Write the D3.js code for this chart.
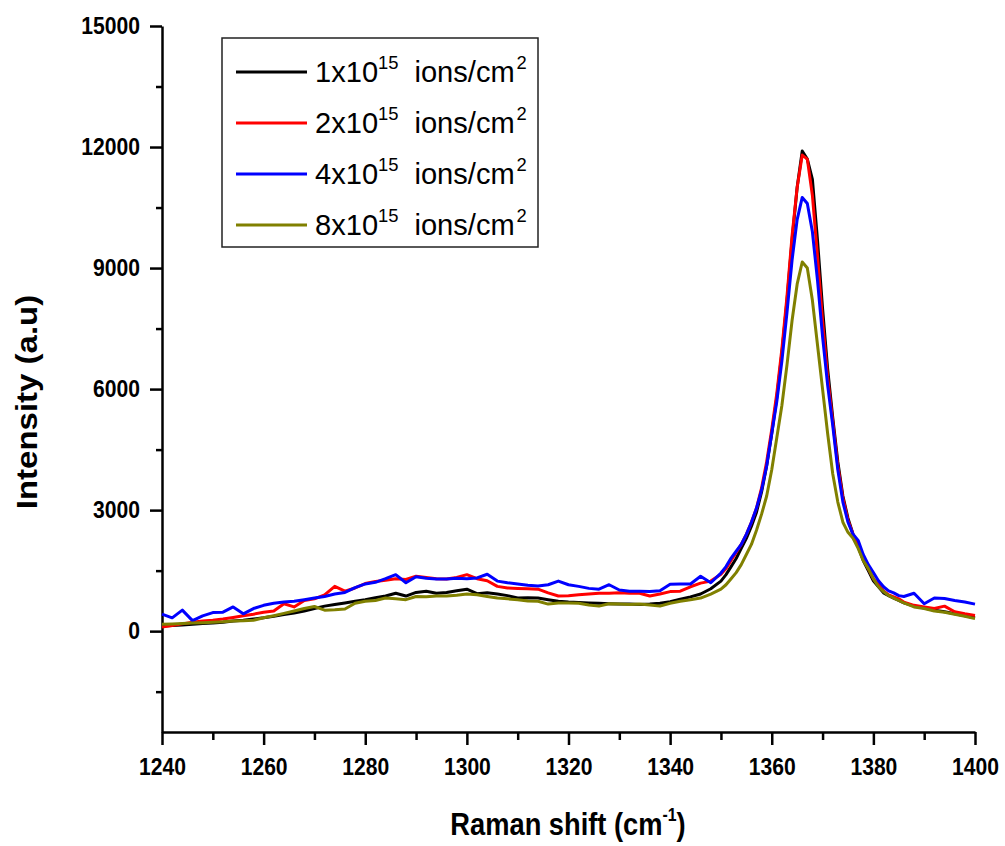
<!DOCTYPE html>
<html>
<head>
<meta charset="utf-8">
<script src="https://cdn.jsdelivr.net/npm/d3@7"></script>
<style>
  body { margin: 0; background: #fff; }
  text { font-family: "Liberation Sans", Arial, sans-serif; }
</style>
</head>
<body>
<div class="svgcontainer"></div>
<script>
// Raman shift (cm-1) sample positions
const shift = [
  1240,1242,1244,1246,1248,1250,1252,1254,1256,1258,
  1260,1262,1264,1266,1268,1270,1272,1274,1276,1278,
  1280,1282,1284,1286,1288,1290,1292,1294,1296,1298,
  1300,1302,1304,1306,1308,1310,1312,1314,1316,1318,
  1320,1322,1324,1326,1328,1330,1332,1334,1336,1338,
  1340,1342,1344,1346,1348,
  1350,1351,1352,1353,1354,1355,1356,1357,1358,1359,
  1360,1361,1362,1363,1364,1365,1366,1367,1368,1369,
  1370,1371,1372,1373,1374,1375,1376,1377,1378,1379,
  1380,1381,1382,1383,1384,1385,
  1386,1388,1390,1392,1394,1396,1398,1400
];

// intensities (a.u) for each fluence
const dose1 = [
  130,140,150,170,190,200,220,250,270,300,
  330,370,410,450,500,560,620,660,700,740,
  780,830,870,940,870,960,990,940,960,1000,
  1040,930,950,920,880,820,830,820,780,740,
  720,710,700,690,680,670,670,660,670,690,
  730,790,850,920,1050,
  1240,1400,1600,1800,2050,2300,2600,2950,3450,4100,
  4900,5800,6900,8200,9700,11000,11900,11700,11200,9700,
  8000,6500,5300,4200,3350,2800,2400,2100,1750,1500,
  1250,1100,950,880,820,760,
  700,620,570,520,480,430,380,330
];
const dose2 = [
  100,140,180,220,250,270,300,340,380,420,
  470,500,680,600,760,800,900,1110,990,1070,
  1180,1230,1260,1300,1280,1360,1330,1300,1290,1330,
  1400,1300,1250,1110,1070,1060,1050,1040,950,870,
  880,900,920,940,940,950,940,940,870,920,
  980,990,1100,1190,1240,
  1410,1550,1750,1950,2150,2400,2700,3050,3550,4200,
  5000,5900,7000,8300,9800,11000,11800,11700,10800,9300,
  7700,6300,5200,4100,3300,2750,2400,2150,1800,1550,
  1300,1150,1000,900,850,800,
  720,640,600,560,620,480,430,390
];
const dose4 = [
  420,330,520,260,380,460,470,600,430,560,
  640,690,720,740,780,820,860,920,960,1080,
  1170,1210,1300,1400,1200,1350,1310,1290,1290,1310,
  1300,1320,1410,1240,1200,1170,1140,1120,1150,1240,
  1150,1110,1060,1040,1150,1020,990,990,980,1000,
  1160,1170,1170,1360,1200,
  1440,1600,1810,1980,2150,2400,2700,3050,3500,4100,
  4900,5700,6700,7900,9200,10200,10750,10600,9900,8700,
  7300,6100,5100,4000,3200,2700,2400,2250,1900,1650,
  1450,1250,1100,1000,950,880,
  860,940,680,820,810,760,720,670
];
const dose8 = [
  170,180,190,200,210,220,230,250,260,270,
  330,380,440,500,560,610,520,530,550,690,
  740,760,820,800,780,860,850,870,870,890,
  920,900,860,820,800,780,750,740,670,700,
  700,690,650,620,680,670,660,670,650,620,
  690,740,780,820,920,
  1040,1150,1300,1450,1650,1900,2150,2500,2900,3350,
  4000,4800,5600,6600,7700,8600,9150,9000,8200,7100,
  6000,4900,3900,3200,2700,2450,2300,2050,1750,1550,
  1300,1100,980,880,820,760,
  700,600,560,500,470,420,370,310
];

const seriesLabels = ["1x10", "2x10", "4x10", "8x10"];
const seriesColors = ["#000000", "#ff0000", "#0000ff", "#808000"];
const xTicks = [1240, 1260, 1280, 1300, 1320, 1340, 1360, 1380, 1400];
const xMinor = [1250, 1270, 1290, 1310, 1330, 1350, 1370, 1390];
const yTicks = [0, 3000, 6000, 9000, 12000, 15000];
const yMinor = [-1500, 1500, 4500, 7500, 10500, 13500];

const W = 1005, H = 846;
const squish = 0.88;   // source picture is narrowed horizontally

const svg = d3.select('.svgcontainer')
  .append('svg')
  .attr('width', W)
  .attr('height', H);

const x = d3.scaleLinear().domain([1240, 1400]).range([162, 975]);
const y = d3.scaleLinear().domain([-2500, 15000]).range([732, 26]);

// minor ticks first (no labels)
svg.append('g')
  .attr('transform', 'translate(0,732)')
  .call(d3.axisBottom(x).tickValues(xMinor).tickSize(8).tickSizeOuter(0).tickFormat(''))
  .call(g => g.select('.domain').remove());
svg.append('g')
  .attr('transform', 'translate(162,0)')
  .call(d3.axisLeft(y).tickValues(yMinor).tickSize(6).tickSizeOuter(0).tickFormat(''))
  .call(g => g.select('.domain').remove());

const xAxis = svg.append('g')
  .attr('transform', 'translate(0,732)')
  .call(d3.axisBottom(x).tickValues(xTicks).tickSize(13).tickSizeOuter(0).tickFormat(d3.format('d')));
xAxis.selectAll('text')
  .attr('y', 43).attr('dy', 0)
  .attr('transform', `scale(${squish},1)`)
  .attr('x', 0);

const yAxis = svg.append('g')
  .attr('transform', 'translate(162,0)')
  .call(d3.axisLeft(y).tickValues(yTicks).tickSize(12).tickSizeOuter(0).tickFormat(d3.format('d')));
yAxis.selectAll('text')
  .attr('x', -22 / squish)
  .attr('transform', `scale(${squish},1)`);

svg.selectAll('.tick text')
  .attr('font-size', 24)
  .attr('font-weight', 'bold')
  .attr('fill', '#000');
svg.selectAll('.domain, .tick line')
  .attr('stroke', '#000')
  .attr('stroke-width', 2.5);

// curves
const allSeries = [dose1, dose2, dose4, dose8];
const line = d3.line()
  .x((d, i) => x(shift[i]))
  .y(d => y(d));

svg.selectAll('.curve')
  .data(allSeries)
  .enter()
  .append('path')
  .attr('class', 'curve')
  .attr('fill', 'none')
  .attr('stroke', (d, i) => seriesColors[i])
  .attr('stroke-width', 3)
  .attr('stroke-linejoin', 'round')
  .attr('d', line);

// axis titles
const xt = svg.append('text')
  .attr('transform', `translate(568,835) scale(${squish},1)`)
  .attr('text-anchor', 'middle')
  .attr('font-size', 31)
  .attr('font-weight', 'bold');
xt.append('tspan').text('Raman shift (cm');
xt.append('tspan').attr('font-size', 18).attr('dy', -14).text('-1');
xt.append('tspan').attr('dy', 14).text(')');

svg.append('text')
  .attr('transform', `translate(37,402) scale(${squish},1) rotate(-90)`)
  .attr('text-anchor', 'middle')
  .attr('font-size', 33)
  .attr('font-weight', 'bold')
  .text('Intensity (a.u)');

// legend
const legend = svg.append('g');
legend.append('rect')
  .attr('x', 222).attr('y', 38)
  .attr('width', 316).attr('height', 209)
  .attr('fill', '#fff')
  .attr('stroke', '#222')
  .attr('stroke-width', 1.5);

const entries = legend.selectAll('.entry')
  .data(seriesLabels)
  .enter()
  .append('g')
  .attr('class', 'entry')
  .attr('transform', (d, i) => `translate(0,${82 + i * 51})`);

entries.append('line')
  .attr('x1', 236).attr('x2', 307)
  .attr('y1', -10).attr('y2', -10)
  .attr('stroke', (d, i) => seriesColors[i])
  .attr('stroke-width', 3);

const lt = entries.append('text')
  .attr('transform', 'translate(315,0) scale(0.97,1)')
  .attr('font-size', 30);
lt.append('tspan').text(d => d);
lt.append('tspan').attr('dy', -13).attr('font-size', 19).text('15');
lt.append('tspan').attr('dy', 13).attr('dx', 8).text(' ions/cm');
lt.append('tspan').attr('dy', -13).attr('dx', 2).attr('font-size', 19).text('2');
</script>
</body>
</html>
